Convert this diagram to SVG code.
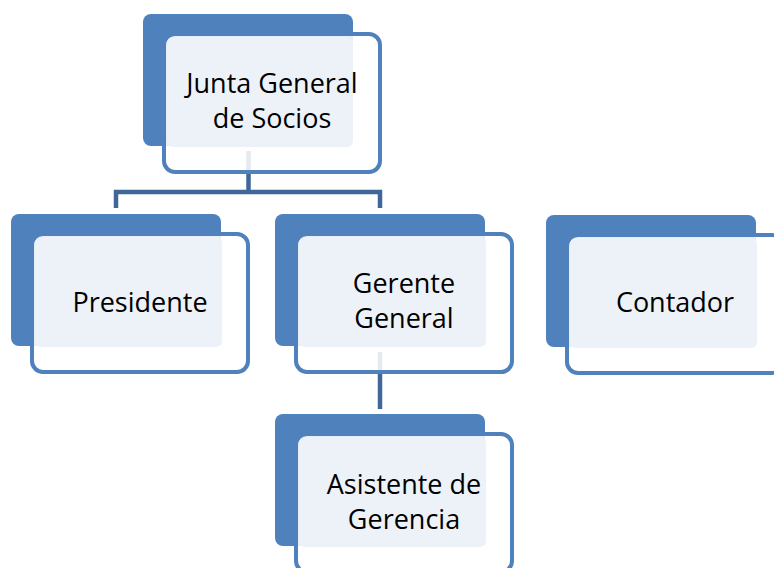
<svg xmlns="http://www.w3.org/2000/svg" width="774" height="568" viewBox="0 0 774 568">
<style>
.back{fill:#4F81BD}
.front{fill:#FFFFFF;fill-opacity:0.86;stroke:#4F81BD;stroke-width:4}
.light{fill:#EDF2F9}
.conn{fill:none;stroke:#3F6898;stroke-width:4.5}
text{font-family:"Open Sans","Noto Sans",sans-serif;font-size:27px;fill:#000;text-anchor:middle}
</style>
<rect width="774" height="568" fill="#FFFFFF"/>
<g id="connectors">
<path class="conn" d="M248.5 151 V192 M116 208 V192 H380 V208"/>
<path class="conn" d="M380 352 V409"/>
</g>
<g id="junta">
<rect class="back" x="143" y="14" width="210" height="132" rx="8"/>
<rect class="front" x="164" y="34" width="216" height="138" rx="11"/>
<rect class="light" x="167" y="37" width="186" height="110" rx="6"/>
<text x="272" y="93">Junta General</text>
<text x="272" y="128">de Socios</text>
</g>
<g id="presidente">
<rect class="back" x="11" y="214" width="210" height="132" rx="8"/>
<rect class="front" x="32" y="234" width="216" height="138" rx="11"/>
<rect class="light" x="35" y="237" width="187" height="110" rx="6"/>
<text x="140" y="312">Presidente</text>
</g>
<g id="gerente">
<rect class="back" x="275" y="214" width="210" height="132" rx="8"/>
<rect class="front" x="296" y="234" width="216" height="138" rx="11"/>
<rect class="light" x="299" y="237" width="187" height="110" rx="6"/>
<text x="404" y="293">Gerente</text>
<text x="404" y="328">General</text>
</g>
<g id="contador">
<rect class="back" x="546" y="215" width="210" height="132" rx="8"/>
<rect class="front" x="567" y="235" width="216" height="138" rx="11"/>
<rect class="light" x="570" y="238" width="187" height="110" rx="6"/>
<text x="675" y="312">Contador</text>
</g>
<g id="asistente">
<rect class="back" x="275" y="414" width="210" height="132" rx="8"/>
<rect class="front" x="296" y="434" width="216" height="138" rx="11"/>
<rect class="light" x="299" y="437" width="187" height="110" rx="6"/>
<text x="404" y="494">Asistente de</text>
<text x="404" y="529">Gerencia</text>
</g>
</svg>
